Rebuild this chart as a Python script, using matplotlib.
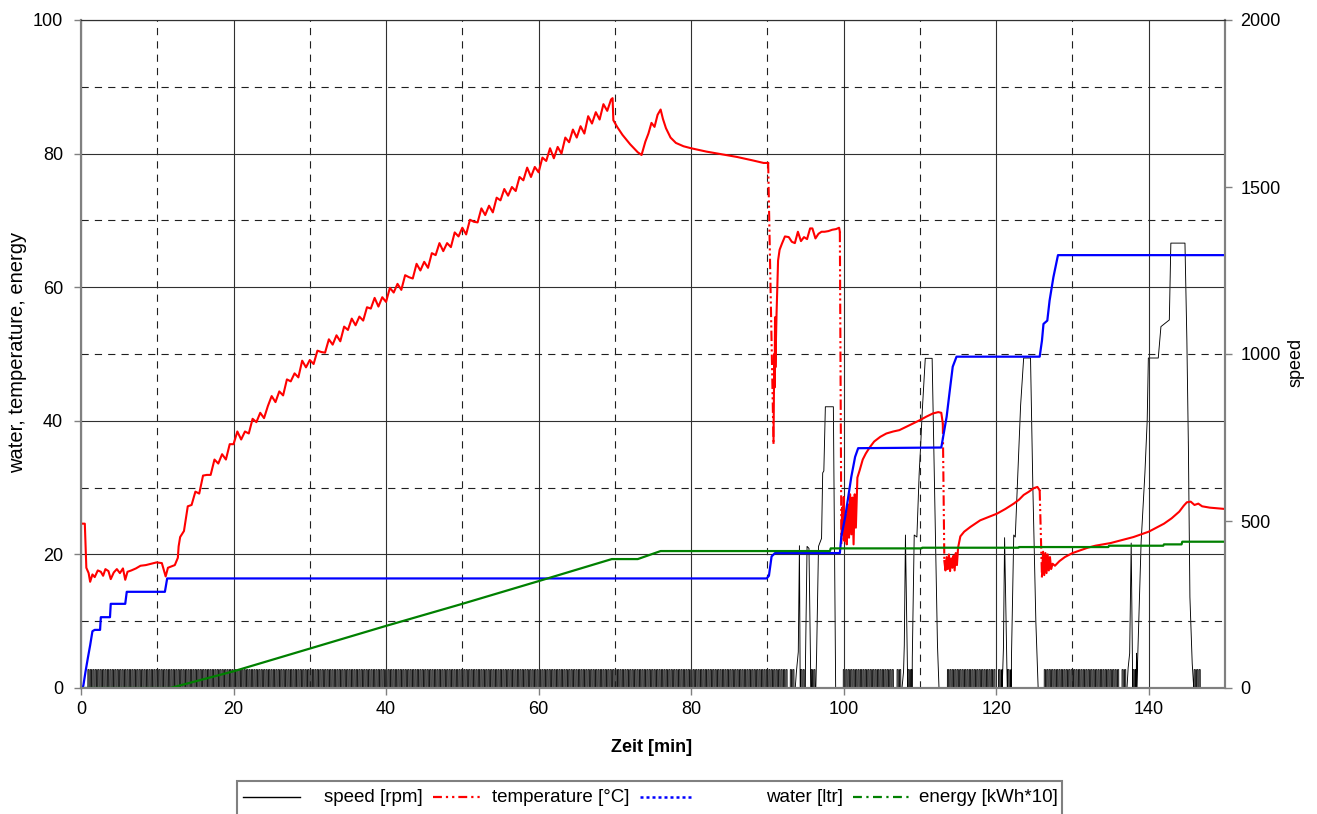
import numpy as np
import matplotlib
matplotlib.use('Agg')
import matplotlib.pyplot as plt
from matplotlib import font_manager
from matplotlib.lines import Line2D
from matplotlib.patches import Rectangle
from matplotlib.ticker import MultipleLocator

plt.rcParams['font.family'] = ['Liberation Sans', 'DejaVu Sans']
names = {f.name for f in font_manager.fontManager.ttflist}
narrow = 'Liberation Sans Narrow' if 'Liberation Sans Narrow' in names else 'Liberation Sans'

# water [ltr]
water_t = [0, 0.3, 0.6, 0.9, 1.2, 1.5, 1.8, 2.5, 2.6, 3.8, 3.9, 5.8, 6.0, 11.0, 11.3,
           89.9, 90.2, 90.55, 91.0, 99.5, 99.7, 100.2, 100.6, 101.0, 101.5, 101.9,
           112.8, 113.5, 113.9, 114.3, 114.8, 125.7, 126.0, 126.2, 126.7, 127.0, 127.5, 128.1, 150]
water_v = [0, 0.3, 2.5, 4.5, 6.4, 8.5, 8.7, 8.7, 10.6, 10.6, 12.6, 12.6, 14.4, 14.4, 16.4,
           16.4, 16.8, 19.7, 20.2, 20.2, 22.7, 25.6, 28.6, 31.6, 34.6, 35.9,
           36.0, 40.6, 44.4, 48.1, 49.6, 49.6, 52.0, 54.5, 55.0, 58.0, 61.5, 64.8, 64.8]

# energy [kWh*10]
energy_t = [0, 11.7, 20, 30, 40, 50, 60, 69.6, 73.0, 76.0, 98.2, 98.3, 110.2, 110.3,
            122.9, 123.0, 134.7, 134.8, 141.9, 142.0, 144.3, 144.4, 150]
energy_v = [0, 0, 2.5, 5.9, 9.3, 12.6, 16.0, 19.3, 19.3, 20.5, 20.5, 20.9, 20.9, 21.0,
            21.0, 21.1, 21.1, 21.3, 21.3, 21.5, 21.5, 21.9, 21.9]

# temperature [°C]
temp_t = [0, 0.5, 0.7, 1.0, 1.2, 1.5, 1.8, 2.2, 2.6, 2.9, 3.2, 3.6, 3.9, 4.3, 4.7, 5.1, 5.5,
          5.8, 6.1, 6.6, 7.2, 7.8, 8.5, 9.2, 9.9, 10.6, 11.1, 11.4, 12.3, 12.7, 12.8,
          13.0, 13.5, 14.0, 14.5, 15.0, 15.5, 16.0, 16.5, 17.0, 17.5, 18.0, 18.5, 19.0, 19.5,
          20.0, 20.5, 21.0, 21.5, 22.0, 22.5, 23.0, 23.5, 24.0, 24.5, 25.0, 25.5, 26.0, 26.5,
          27.0, 27.5, 28.0, 28.5, 29.0, 29.5, 30.0, 30.5, 31.0, 31.5, 32.0, 32.5, 33.0, 33.5,
          34.0, 34.5, 35.0, 35.5, 36.0, 36.5, 37.0, 37.5, 38.0, 38.5, 39.0, 39.5, 40.0, 40.5,
          41.0, 41.5, 42.0, 42.5, 43.0, 43.5, 44.0, 44.5, 45.0, 45.5, 46.0, 46.5, 47.0, 47.5,
          48.0, 48.5, 49.0, 49.5, 50.0, 50.5, 51.0, 51.5, 52.0, 52.5, 53.0, 53.5, 54.0, 54.5,
          55.0, 55.5, 56.0, 56.5, 57.0, 57.5, 58.0, 58.5, 59.0, 59.5, 60.0, 60.5, 61.0, 61.5,
          62.0, 62.5, 63.0, 63.5, 64.0, 64.5, 65.0, 65.5, 66.0, 66.5, 67.0, 67.5, 68.0, 68.5,
          69.0, 69.5, 69.7,
          69.8, 70.3, 71.0, 72.0, 73.0, 73.5, 74.0, 74.4, 74.8, 75.2, 75.6, 76.0, 76.3, 76.7,
          77.3, 78.0, 79.0, 80.0, 82.0, 84.0, 86.0, 88.0, 89.5, 90.1,
          90.8, 90.85, 90.9, 90.95, 91.0, 91.05, 91.1, 91.2, 91.3, 91.4, 91.6, 91.9, 92.3,
          92.8, 93.2, 93.6, 94.0, 94.4, 94.8, 95.2, 95.6, 95.9, 96.3, 96.7, 97.1, 97.5, 98.0,
          98.5, 99.0, 99.4, 99.5,
          99.7, 99.8, 99.9, 100.0, 100.1, 100.25, 100.4, 100.55, 100.7, 100.85, 101.0, 101.15,
          101.3, 101.45, 101.6, 101.8, 102.1, 102.5, 102.9, 103.4, 104.0, 104.8, 105.6, 106.5,
          107.3, 108.2, 109.1, 110.0, 110.8, 111.7, 112.4, 112.8, 113.0,
          113.2, 113.35, 113.5, 113.65, 113.8, 113.95, 114.1, 114.25, 114.4, 114.55, 114.7,
          114.85, 115.0, 115.3, 115.8, 116.6, 117.9, 119.0, 120.1, 121.2, 122.3, 123.0, 123.6,
          124.3, 124.9, 125.4, 125.7,
          126.0, 126.15, 126.3, 126.45, 126.6, 126.75, 126.9, 127.05, 127.2, 127.4, 127.7,
          128.3, 129.0, 130.0, 131.0, 132.0, 133.0, 134.0, 135.0, 136.0, 137.0, 138.0, 139.0,
          140.0, 141.0, 142.0, 143.0, 144.0, 144.6, 145.0, 145.5, 146.0, 146.5, 147.0, 148.0,
          149.0, 150.0]
temp_v = [24.6, 24.6, 18.0, 17.2, 15.9, 17.0, 16.6, 17.6, 17.4, 16.8, 17.8, 17.5, 16.3, 17.3,
          17.8, 17.2, 17.9, 16.2, 17.4, 17.6, 17.9, 18.3, 18.4, 18.6, 18.8, 18.7, 16.7, 18.0,
          18.4, 19.5, 21.2,
          22.6, 23.5, 27.2, 27.4, 29.4, 29.1, 31.8, 31.9, 31.9, 34.2, 33.6, 35.0, 34.2, 36.5,
          36.5, 38.4, 37.2, 38.4, 38.1, 40.3, 39.8, 41.2, 40.4, 42.2, 43.7, 42.8, 44.4, 43.8,
          46.2, 45.9, 47.1, 46.5, 49.0, 48.0, 49.1, 48.5, 50.5, 50.3, 50.2, 52.2, 51.4, 52.8,
          51.9, 54.1, 53.6, 55.3, 54.3, 55.6, 55.0, 57.0, 56.8, 58.4, 57.1, 58.5, 57.8, 59.9,
          59.2, 60.5, 59.6, 61.8, 61.5, 61.3, 63.5, 62.5, 63.8, 62.9, 65.1, 64.8, 66.6, 65.4,
          66.6, 66.0, 68.2, 67.6, 68.9, 67.9, 70.1, 69.8, 69.7, 71.8, 70.8, 72.2, 71.2, 73.4,
          73.0, 74.7, 73.7, 75.0, 74.4, 76.5, 76.0, 77.9, 76.5, 78.0, 77.2, 79.4, 78.9, 80.8,
          79.3, 81.0, 80.0, 82.4, 81.7, 83.6, 82.4, 84.1, 83.0, 85.6, 84.5, 86.2, 85.1, 87.4,
          86.4, 88.1, 88.3,
          85.0, 84.0, 82.8, 81.4, 80.2, 79.8, 81.8, 83.0, 84.6, 84.0, 85.8, 86.6, 85.2, 83.8,
          82.4, 81.6, 81.1, 80.8, 80.3, 79.9, 79.5, 79.0, 78.6, 78.6,
          36.7, 43.5, 50.0, 45.0, 55.5, 48.0, 51.0, 56.0, 60.0, 64.0, 65.6, 66.5, 67.6,
          67.5, 66.8, 66.6, 68.3, 66.9, 67.5, 67.2, 68.8, 68.8, 67.3, 68.0, 68.3, 68.3, 68.4,
          68.6, 68.7, 68.9, 68.3,
          21.7, 27.0, 23.0, 28.6, 22.0, 26.0, 21.5, 27.5, 22.5, 29.0, 23.0, 28.5,
          21.5, 29.0, 24.0, 31.5, 32.6, 34.2, 35.1, 36.0, 36.9, 37.6, 38.1, 38.4,
          38.6, 39.1, 39.6, 40.1, 40.6, 41.1, 41.3, 41.2, 39.6,
          19.0, 17.6, 19.6, 17.8, 20.0, 17.5, 19.4, 18.0, 19.8, 17.6, 20.2,
          18.4, 21.0, 22.7, 23.4, 24.1, 25.1, 25.6, 26.1, 26.8, 27.6, 28.2, 28.9,
          29.4, 29.9, 30.1, 29.6,
          16.7, 20.4, 16.9, 20.2, 17.2, 20.0, 17.6, 19.6, 17.8, 18.6, 18.3,
          19.0, 19.6, 20.2, 20.6, 21.0, 21.3, 21.5, 21.7, 22.0, 22.3, 22.6, 23.0,
          23.4, 24.0, 24.6, 25.4, 26.4, 27.3, 27.8, 27.9, 27.4, 27.6, 27.2, 27.0,
          26.9, 26.8]

# speed [rpm]: spin phases read point by point
spin_t = [93.65, 93.8, 94.05, 94.2, 94.3,
          94.98, 95.0, 95.2, 95.45, 95.7,
          96.35, 96.45, 96.7, 97.1, 97.25, 97.4, 97.6, 98.65, 98.8, 98.95,
          107.65, 107.85, 107.95, 108.1, 108.4,
          108.98, 109.0, 109.25, 109.6, 109.9, 110.1, 110.3, 110.7, 111.6, 111.8, 112.1, 112.3, 112.5,
          120.75, 120.85, 120.95, 121.1, 121.45,
          121.95, 122.0, 122.3, 122.5, 122.85, 123.2, 123.6, 124.5, 124.8, 125.2, 125.5,
          137.15, 137.3, 137.5, 137.7, 137.9,
          138.35, 138.4, 139.0, 139.5, 139.8, 139.95, 141.25, 141.6, 142.7, 142.9, 144.75,
          145.0, 145.2, 145.4, 145.7, 145.9]
spin_rpm = [0, 48, 108, 426, 0,
            0, 90, 424, 418, 0,
            0, 98, 424, 448, 644, 650, 842, 842, 420, 0,
            0, 49, 128, 458, 0,
            0, 92, 458, 452, 642, 728, 827, 987, 987, 738, 348, 128, 0,
            0, 50, 120, 450, 0,
            0, 90, 458, 452, 646, 846, 988, 988, 608, 198, 0,
            0, 60, 104, 434, 0,
            0, 104, 436, 644, 802, 988, 988, 1082, 1102, 1332, 1332,
            1042, 722, 272, 74, 0]

# drum tumbling (on/off agitation) between the spins
tumble_blocks = [(0.9, 92.5), (93.0, 93.6), (94.35, 94.95), (95.75, 96.3),
                 (99.95, 106.6), (107.0, 107.6), (108.45, 108.95),
                 (113.6, 119.9), (120.3, 120.7), (121.5, 121.9),
                 (126.3, 136.1), (136.5, 137.1), (137.95, 138.3), (145.95, 146.7)]
tumble_rpm = 55
tumble_period = 0.32
tumble_on = 0.16

seg_t, seg_r = [np.array(spin_t)], [np.array(spin_rpm, float)]
for a, b in tumble_blocks:
    starts = np.arange(a, b, tumble_period)
    offs = np.array([0, 0.005, tumble_on, tumble_on + 0.005])
    seg_t.append((starts[:, None] + offs).ravel())
    seg_r.append(np.tile([0, tumble_rpm, tumble_rpm, 0], len(starts)).astype(float))
speed_t = np.concatenate(seg_t)
speed_r = np.concatenate(seg_r)
order = np.argsort(speed_t, kind='stable')
speed_t, speed_r = speed_t[order], speed_r[order]

fig = plt.figure(figsize=(13.17, 8.14), dpi=100, facecolor='white')
ax = fig.add_axes([81 / 1317, 126 / 814, 1144 / 1317, 668 / 814])
ax2 = ax.twinx()
ax.set_zorder(ax2.get_zorder() + 1)
ax.patch.set_visible(False)
ax2.patch.set_visible(True)
ax2.patch.set_facecolor('white')

ax2.plot(speed_t, speed_r, color='black', lw=0.65)

# temperature: steep drops are drawn with the series' dash-dot-dot style
temp_style = (0, (5, 1.5, 1, 1.5, 1, 1.5))
tt = np.array(temp_t)
tv = np.array(temp_v)
drops = np.where(np.diff(tv) < -8)[0]
solid_t, solid_v = [], []
prev = 0
for i in drops:
    solid_t += list(tt[prev:i + 1]) + [np.nan]
    solid_v += list(tv[prev:i + 1]) + [np.nan]
    prev = i + 1
solid_t += list(tt[prev:])
solid_v += list(tv[prev:])
ax.plot(solid_t, solid_v, color='#ff0000', lw=1.5)
for i in drops:
    ax.plot(tt[i:i + 2], tv[i:i + 2], color='#ff0000', lw=1.5, linestyle=temp_style)

ax.plot(water_t, water_v, color='#0000ff', lw=1.6)
ax.plot(energy_t, energy_v, color='#008000', lw=1.6)

ax.set_xlim(0, 150)
ax.set_ylim(0, 100)
ax2.set_ylim(0, 2000)
ax.xaxis.set_major_locator(MultipleLocator(20))
ax.xaxis.set_minor_locator(MultipleLocator(10))
ax.yaxis.set_major_locator(MultipleLocator(20))
ax.yaxis.set_minor_locator(MultipleLocator(10))
ax2.yaxis.set_major_locator(MultipleLocator(500))

ax2.set_axisbelow(True)
ax.grid(which='major', color='#303030', lw=0.8, ls='-', zorder=0)
ax.grid(which='minor', color='#202020', lw=0.8, ls=(0, (6.5, 5.5)), zorder=0)
ax.set_axisbelow(True)

ax.tick_params(which='minor', length=0)
ax.tick_params(which='major', direction='out', length=5, width=1, color='#808080', labelsize=13)
ax.tick_params(axis='y', pad=8)
ax.tick_params(axis='x', pad=4)
ax2.tick_params(axis='y', direction='out', length=5, width=1, color='#808080', labelsize=13, pad=6)

for a in (ax, ax2):
    for s in ('left', 'bottom', 'right'):
        a.spines[s].set_color('#808080')
        a.spines[s].set_linewidth(1.5)
    a.spines['top'].set_color('#303030')
    a.spines['top'].set_linewidth(0.8)

fig.text(18 / 1317, 1 - 352 / 814, 'water, temperature, energy', rotation=90,
         ha='center', va='center', fontsize=14.5, family=[narrow, 'DejaVu Sans'])
fig.text(1296 / 1317, 1 - 362 / 814, 'speed', rotation=90,
         ha='center', va='center', fontsize=13)
fig.text(652 / 1317, 1 - 747 / 814, 'Zeit [min]', ha='center', va='center',
         fontsize=13, fontweight='bold')

# legend box along the bottom edge
W, H = 1317, 814
fig.add_artist(Rectangle((237 / W, -0.02), 825 / W, (814 - 781) / H + 0.02,
                         transform=fig.transFigure, fill=False, edgecolor='#808080', lw=1.5))
ly = 1 - 797 / H
entries = [
    (243, 300, dict(color='black', lw=1.0, ls='-'), 324, 'speed [rpm]'),
    (433, 483, dict(color='#ff0000', lw=1.6, ls=(0, (4, 1.8, 1, 1.8, 1, 1.8))), 492, 'temperature [°C]'),
    (640, 694, dict(color='#0000ff', lw=1.8, ls=(0, (1.2, 1.2))), 766, 'water [ltr]'),
    (853, 910, dict(color='#008000', lw=1.6, ls=(0, (4, 2, 1, 2))), 919, 'energy [kWh*10]'),
]
for x0, x1, style, tx, label in entries:
    fig.add_artist(Line2D([x0 / W, x1 / W], [ly, ly], transform=fig.transFigure, **style))
    fig.text(tx / W, ly, label, ha='left', va='center', fontsize=13.5)

fig.savefig('out.png', dpi=100, facecolor='white')
